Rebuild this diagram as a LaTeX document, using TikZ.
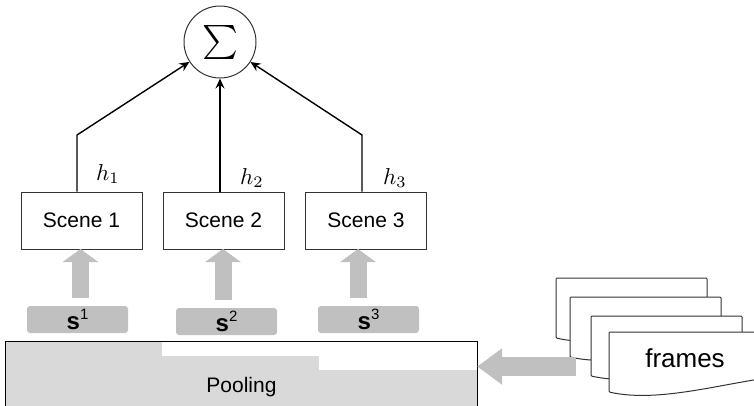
\documentclass[tikz,border=0pt]{standalone}
\usepackage[no-math]{fontspec}
\setmainfont{Liberation Sans}
\usepackage{amsmath}
\usetikzlibrary{arrows.meta}
\usepackage{xcolor}
\definecolor{boxline}{HTML}{333333}
\definecolor{flowgray}{HTML}{C0C0C0}
\definecolor{poolgray}{HTML}{D9D9D9}
\newcommand{\segname}[1]{\textbf{s}\raisebox{0.42em}{\fontsize{15}{17}\selectfont #1}}

\begin{document}
\begin{tikzpicture}[
    x=1pt, y=-1pt,
    scene/.style={draw=boxline, line width=1pt, minimum width=121pt, minimum height=57pt, inner sep=0pt, font=\fontsize{21}{25}\selectfont},
    seg/.style={fill=flowgray, rounded corners=3pt, minimum width=101pt, minimum height=27pt, inner sep=0pt, font=\fontsize{24}{26}\selectfont},
    hlabel/.style={inner sep=0pt, scale=2.3},
    link/.style={line width=1.4pt, -{Stealth[length=10pt, width=9pt, inset=3.5pt]}},
    uparrow/.style={flowgray, line width=17pt, -{Triangle[length=13pt, width=35pt]}},
    sidearrow/.style={flowgray, line width=19pt, -{Triangle[length=25pt, width=35pt]}},
    sheet/.style={draw=boxline, line width=1pt, fill=white, rounded corners=1pt}
]
\useasboundingbox (0,0) rectangle (754,405);

% sum node
\node[draw=boxline, line width=1pt, circle, minimum size=72pt, inner sep=0pt] (sum) at (220,42) {};
\node[inner sep=0pt, scale=3.4] (sigma) at (sum) {$\sum$};

% scenes
\node[scene] (scene1) at (81.5,220.5) {Scene 1};
\node[scene] (scene2) at (223.5,220.5) {Scene 2};
\node[scene] (scene3) at (366,220.5) {Scene 3};

% links to the sum
\coordinate (b1) at (77,135);
\coordinate (b2) at (220,135);
\coordinate (b3) at (362,135);
\draw[link] (b1 |- scene1.north) -- (b1) -- (sum);
\draw[link] (b2 |- scene2.north) -- (sum);
\draw[link] (b3 |- scene3.north) -- (b3) -- (sum);

\node[hlabel] (h1) at (108,174) {$h_1$};
\node[hlabel] (h2) at (252,178) {$h_2$};
\node[hlabel] (h3) at (395,178) {$h_3$};

% segments
\node[seg] (s1) at (77.5,319.5) {\segname{1}};
\node[seg] (s2) at (226.5,321.5) {\segname{2}};
\node[seg] (s3) at (368.5,319.5) {\segname{3}};

\coordinate (t1) at (80.5,249);
\coordinate (t2) at (223,249);
\coordinate (t3) at (358,249);
\draw[uparrow, shorten <=8pt] (t1 |- s1.north) -- (t1);
\draw[uparrow, shorten <=8pt] (t2 |- s2.north) -- (t2);
\draw[uparrow, shorten <=8pt] (t3 |- s3.north) -- (t3);

% pooling
\node[fill=poolgray, minimum width=471pt, minimum height=90pt, inner sep=0pt,
      font=\fontsize{21}{25}\selectfont] (pool) at (241.5,387) {Pooling};
\fill[white] (162,342) rectangle (319,356);
\fill[white] (319,342) rectangle (477,370);
\draw[black, line width=1pt] (pool.south west) -- (pool.north west) -- (pool.north east) -- (pool.south east);

% frames
\foreach \x/\y in {556/278, 570/297, 591/316, 609/332}
  \draw[sheet] (\x,\y) -- (\x+151,\y) -- (\x+151,\y+47)
    .. controls (\x+100,\y+55) and (\x+45,\y+70) .. (\x,\y+60) -- cycle;
\node[inner sep=0pt, font=\fontsize{26}{30}\selectfont] (frames) at (685,358) {frames};

\coordinate (fr) at (576,366.5);
\draw[sidearrow] (fr) -- (fr -| pool.east);

\end{tikzpicture}
\end{document}
